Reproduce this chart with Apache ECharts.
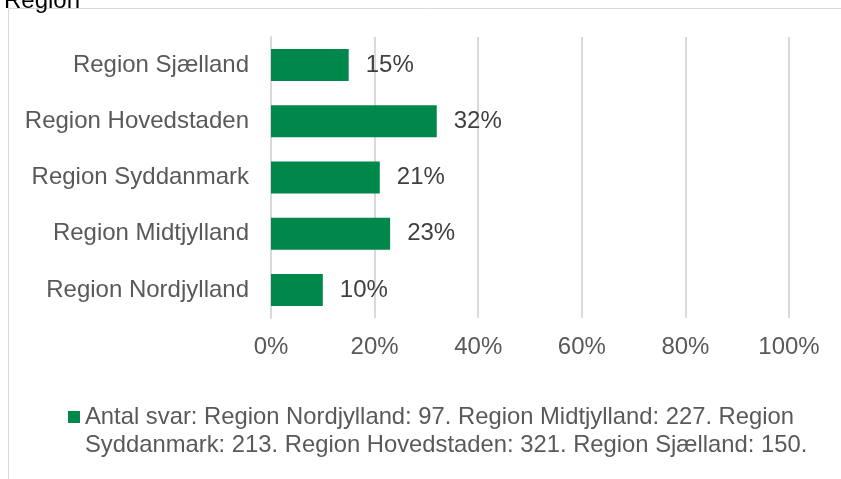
<!DOCTYPE html>
<html>
<head>
<meta charset="utf-8">
<script src="https://cdn.jsdelivr.net/npm/echarts@6/dist/echarts.min.js"></script>
<style>
  html, body { margin: 0; padding: 0; background: #fff; }
  #chart { width: 841px; height: 479px; }
</style>
</head>
<body>
<div id="chart"></div>
<script>
// regioner, nederst først (kategoriaksen tegnes nedefra)
const regions = ['Region Nordjylland', 'Region Midtjylland', 'Region Syddanmark', 'Region Hovedstaden', 'Region Sjælland']
const shares = [10, 23, 21, 32, 15]
const xTicks = [0, 20, 40, 60, 80, 100]
const seriesName = 'Antal svar: Region Nordjylland: 97. Region Midtjylland: 227. Region Syddanmark: 213. Region Hovedstaden: 321. Region Sjælland: 150.'
const legendLines = ['Antal svar: Region Nordjylland: 97. Region Midtjylland: 227. Region', 'Syddanmark: 213. Region Hovedstaden: 321. Region Sjælland: 150.']

const font = 'Liberation Sans, Arial, sans-serif'
const chart = echarts.init(document.getElementById('chart'))

chart.setOption({
  animation: false,
  title: {
    text: 'Region',
    left: -1,
    top: -16,
    textStyle: { fontFamily: font, fontSize: 24, fontWeight: 'normal', color: '#000' }
  },
  graphic: [{
    type: 'rect',
    shape: { x: 8.5, y: 8.5, width: 900, height: 600 },
    style: { fill: 'none', stroke: '#d9d9d9', lineWidth: 1 },
    silent: true
  }],
  grid: { left: 271, right: 52, top: 37, bottom: 161 },
  xAxis: {
    type: 'value',
    min: xTicks[0],
    max: xTicks[xTicks.length - 1],
    interval: 20,
    axisLine: { show: false },
    axisTick: { show: false },
    axisLabel: { formatter: '{value}%', fontFamily: font, fontSize: 24, color: '#595959', margin: 17 },
    splitLine: { lineStyle: { color: '#d9d9d9', width: 2 } }
  },
  yAxis: {
    type: 'category',
    data: regions,
    axisLine: { lineStyle: { color: '#d9d9d9', width: 2 } },
    axisTick: { show: false },
    axisLabel: { fontFamily: font, fontSize: 24, color: '#595959', margin: 22 }
  },
  legend: {
    left: 63,
    top: 398,
    itemWidth: 12,
    itemHeight: 40,
    itemGap: 0,
    // firkant øverst i en høj ikonboks, så den flugter med første tekstlinje
    icon: 'path://M0,0L12,0L12,12L0,12Z M0,40L12,40Z',
    data: [seriesName],
    formatter: () => legendLines.join('\n'),
    textStyle: { fontFamily: font, fontSize: 23.8, color: '#595959', lineHeight: 28 }
  },
  series: [{
    name: seriesName,
    type: 'bar',
    data: shares,
    barCategoryGap: '43%',
    itemStyle: { color: '#00884a' },
    label: {
      show: true,
      position: 'right',
      distance: 17,
      formatter: '{c}%',
      fontFamily: font,
      fontSize: 24,
      color: '#404040'
    }
  }]
})
</script>
</body>
</html>
